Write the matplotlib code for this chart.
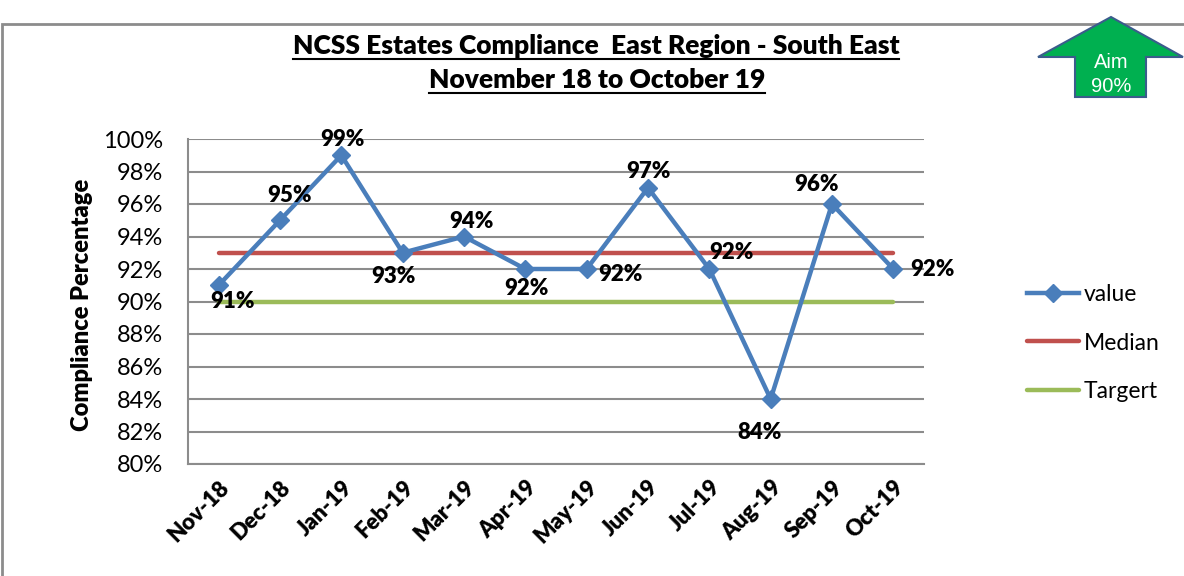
import matplotlib
matplotlib.use('Agg')
import matplotlib.pyplot as plt
from matplotlib.patches import Polygon, Rectangle
from matplotlib.lines import Line2D
from matplotlib.ticker import FuncFormatter

# Données
mois = ['Nov-18', 'Dec-18', 'Jan-19', 'Feb-19', 'Mar-19', 'Apr-19',
        'May-19', 'Jun-19', 'Jul-19', 'Aug-19', 'Sep-19', 'Oct-19']
valeurs = [91, 95, 99, 93, 94, 92, 92, 97, 92, 84, 96, 92]
mediane = [93] * 12
cible = [90] * 12

# décalages des étiquettes (points)
decalages = [(10, -12), (7, 18), (1, 11), (-7, -17), (5, 11), (1, -14),
             (24, -4), (0, 12), (16, 12), (-8, -24), (-11, 14), (28, 0)]

plt.rcParams['font.family'] = ['Lato', 'DejaVu Sans']
GRAS = 'heavy'

W, H = 1184, 576
fig = plt.figure(figsize=(W / 100, H / 100), dpi=100)

def fx(px):
    return px / W

def fy(py):
    return 1 - py / H

# cadre extérieur
fig.patches.append(Rectangle((fx(2), fy(600)), 2, 1, transform=fig.transFigure,
                             fill=False, edgecolor='#8c8c8c', linewidth=2))

ax = fig.add_axes([fx(188), fy(464), fx(924) - fx(188), fy(139) - fy(464)])
x = list(range(len(mois)))

ax.plot(x, valeurs, color='#4A7EBB', linewidth=3.2, marker='D', markersize=9,
        label='value', zorder=4)
ax.plot(x, mediane, color='#C0504D', linewidth=3.2, label='Median',
        solid_capstyle='round', zorder=3)
ax.plot(x, cible, color='#9BBB59', linewidth=3.2, label='Targert',
        solid_capstyle='round', zorder=3)

for i, v in enumerate(valeurs):
    ax.annotate(f'{v}%', (x[i], v), xytext=decalages[i], textcoords='offset points',
                ha='center', va='center', fontsize=16, fontweight=GRAS, zorder=5)

ax.set_xlim(-0.5, len(mois) - 0.5)
ax.set_ylim(80, 100)
ax.set_yticks(range(80, 101, 2))
ax.yaxis.set_major_formatter(FuncFormatter(lambda v, p: f'{v:.0f}%'))
ax.set_xticks(x)
ax.set_xticklabels(mois, rotation=45, ha='right', rotation_mode='anchor',
                   fontsize=16, fontweight=GRAS)
ax.tick_params(axis='y', labelsize=17, length=0, pad=18)
ax.tick_params(axis='x', length=0, pad=9)
ax.grid(axis='y', color='#8c8c8c', linewidth=1.5)
ax.set_axisbelow(True)
for s in ['top', 'right']:
    ax.spines[s].set_visible(False)
for s in ['left', 'bottom']:
    ax.spines[s].set_color('#8c8c8c')
    ax.spines[s].set_linewidth(1.5)

fig.text(fx(82), fy(305), 'Compliance Percentage', rotation=90, ha='center',
         va='center', fontsize=17, fontweight=GRAS)

fig.legend(loc='center left', bbox_to_anchor=(fx(1006), fy(343)), frameon=False,
           fontsize=16.5, handlelength=2.3, labelspacing=1.2, handletextpad=0.2)

# titre souligné
t1 = fig.text(fx(596), fy(46), 'NCSS Estates Compliance  East Region - South East',
              ha='center', va='center', fontsize=19, fontweight=GRAS)
t2 = fig.text(fx(597), fy(80), 'November 18 to October 19',
              ha='center', va='center', fontsize=19, fontweight=GRAS)

# flèche "Aim"
fleche = [(1111, 17), (1183, 57), (1146, 57), (1146, 97), (1075, 97), (1075, 57), (1038, 57)]
fig.patches.append(Polygon([(fx(a), fy(b)) for a, b in fleche], closed=True,
                           transform=fig.transFigure, facecolor='#00B050',
                           edgecolor='#3B5C8C', linewidth=1.5))
fig.text(fx(1111), fy(63), 'Aim', ha='center', va='center', color='white',
         fontsize=14.5, family='Liberation Sans')
fig.text(fx(1111), fy(87), '90%', ha='center', va='center', color='white',
         fontsize=14.5, family='Liberation Sans')

fig.canvas.draw()
r = fig.canvas.get_renderer()
for t in (t1, t2):
    bb = t.get_window_extent(r).transformed(fig.transFigure.inverted())
    fig.lines.append(Line2D([bb.x0, bb.x1], [bb.y0 - 0.002, bb.y0 - 0.002],
                            transform=fig.transFigure, color='black', linewidth=1.5))

fig.savefig('out.png', dpi=100)
